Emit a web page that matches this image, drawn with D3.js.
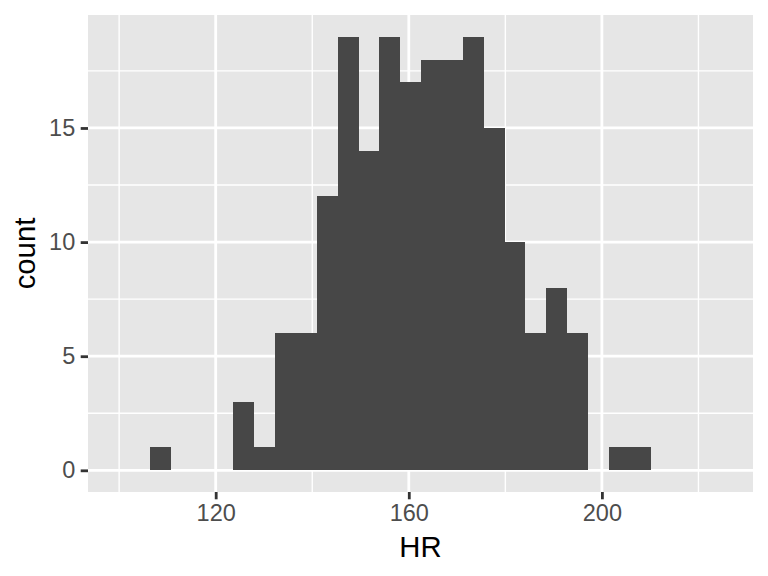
<!DOCTYPE html>
<html>
<head>
<meta charset="utf-8">
<script src="https://cdn.jsdelivr.net/npm/d3@7"></script>
<style>
  body { margin: 0; background: #fff; }
  text { font-family: "Liberation Sans", Arial, sans-serif; }
</style>
</head>
<body>
<div id="chart"></div>
<script>
// histogram bins of HR
var binStart = 106.4;
var binWidth = 4.32;
var counts = [1, 0, 0, 0, 3, 1, 6, 6, 12, 19, 14, 19, 17, 18, 18, 19, 15, 10, 6, 8, 6, 0, 1, 1];
var xTicks = [120, 160, 200];
var xMinor = [100, 140, 180, 220];
var yTicks = [0, 5, 10, 15];
var yMinor = [2.5, 7.5, 12.5, 17.5];

var width = 768, height = 576;
var panelL = 88, panelR = 753, panelT = 15, panelB = 492;

var bins = counts.map(function(c, i) {
  return { x0: binStart + i * binWidth, x1: binStart + (i + 1) * binWidth, count: c };
});

var svg = d3.select("#chart").append("svg")
  .attr("width", width)
  .attr("height", height);

var x = d3.scaleLinear().domain([93.55, 231.3]).range([panelL, panelR]);
var y = d3.scaleLinear().domain([-0.95, 19.95]).range([panelB, panelT]);

// panel
svg.append("rect")
  .attr("x", panelL).attr("y", panelT)
  .attr("width", panelR - panelL).attr("height", panelB - panelT)
  .attr("fill", "#E6E6E6");

// grid lines
svg.selectAll(".xminor").data(xMinor).enter().append("line")
  .attr("x1", d => x(d)).attr("x2", d => x(d))
  .attr("y1", panelT).attr("y2", panelB)
  .attr("stroke", "#fff").attr("stroke-width", 1.4);
svg.selectAll(".yminor").data(yMinor).enter().append("line")
  .attr("x1", panelL).attr("x2", panelR)
  .attr("y1", d => y(d)).attr("y2", d => y(d))
  .attr("stroke", "#fff").attr("stroke-width", 1.4);
svg.selectAll(".xmajor").data(xTicks).enter().append("line")
  .attr("x1", d => x(d)).attr("x2", d => x(d))
  .attr("y1", panelT).attr("y2", panelB)
  .attr("stroke", "#fff").attr("stroke-width", 2.8);
svg.selectAll(".ymajor").data(yTicks).enter().append("line")
  .attr("x1", panelL).attr("x2", panelR)
  .attr("y1", d => y(d)).attr("y2", d => y(d))
  .attr("stroke", "#fff").attr("stroke-width", 2.8);

// bars
svg.selectAll(".bar").data(bins.filter(d => d.count > 0)).enter().append("rect")
  .attr("class", "bar")
  .attr("x", d => x(d.x0))
  .attr("width", d => x(d.x1) - x(d.x0))
  .attr("y", d => y(d.count))
  .attr("height", d => y(0) - y(d.count))
  .attr("fill", "#474747")
  .attr("shape-rendering", "crispEdges");

// axes
var xAxis = svg.append("g")
  .attr("transform", "translate(0," + panelB + ")")
  .call(d3.axisBottom(x).tickValues(xTicks).tickSizeOuter(0).tickSize(7.3).tickPadding(5));
var yAxis = svg.append("g")
  .attr("transform", "translate(" + panelL + ",0)")
  .call(d3.axisLeft(y).tickValues(yTicks).tickSizeOuter(0).tickSize(7.3).tickPadding(5.5));

[xAxis, yAxis].forEach(function(a) {
  a.select(".domain").remove();
  a.selectAll(".tick line").attr("stroke", "#333333").attr("stroke-width", 2.8);
  a.selectAll(".tick text")
    .attr("fill", "#4D4D4D")
    .style("font-size", "23.5px")
    .style("font-family", "'Liberation Sans', Arial, sans-serif");
});

// titles
svg.append("text")
  .attr("x", (panelL + panelR) / 2)
  .attr("y", 557)
  .attr("text-anchor", "middle")
  .style("font-size", "29.3px")
  .attr("fill", "#000")
  .text("HR");

svg.append("text")
  .attr("transform", "translate(35," + ((panelT + panelB) / 2) + ") rotate(-90)")
  .attr("text-anchor", "middle")
  .style("font-size", "29.3px")
  .attr("fill", "#000")
  .text("count");
</script>
</body>
</html>
